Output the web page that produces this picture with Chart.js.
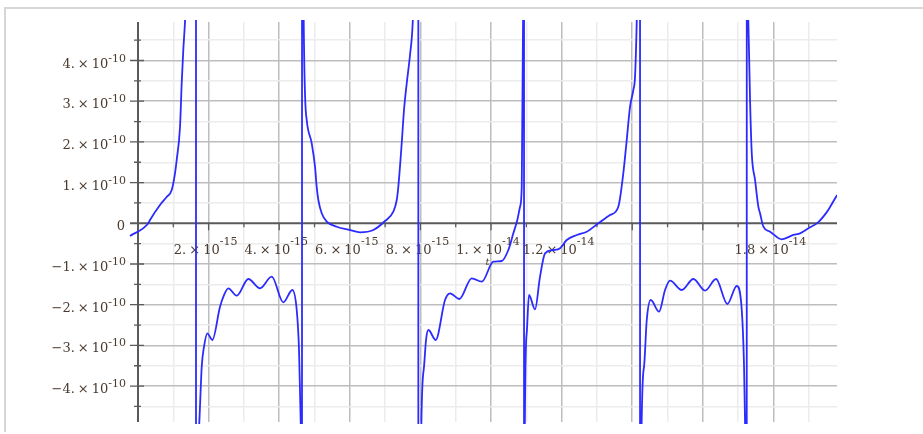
<!DOCTYPE html>
<html>
<head>
<meta charset="utf-8">
<script src="https://cdn.jsdelivr.net/npm/chart.js@4.4.0/dist/chart.umd.min.js"></script>
<style>
  html, body { margin: 0; padding: 0; background: #fff; overflow: hidden; }
  #frame { position: absolute; left: 4px; top: 7px; width: 930px; height: 423px;
           border-top: 2px solid #d6d6d6; border-left: 2px solid #d6d6d6; }
  #plot { position: absolute; left: 0; top: 0; }
</style>
</head>
<body>
<div id="frame"></div>
<canvas id="plot" width="923" height="434"></canvas>
<script>
// t in units of 1e-15, f in units of 1e-10
var tValues = [
  -0.227, 0.292, 0.340, 0.623, 0.813, 0.955, 1.048, 1.096, 1.190, 1.238, 1.283, 1.331, 1.380,
  1.642, 1.644,
  1.700, 1.737, 1.805, 1.870, 1.963, 2.105, 2.323, 2.436, 2.558, 2.796, 3.125, 3.456, 3.788,
  4.116, 4.371, 4.496, 4.561, 4.609, 4.625,
  4.645, 4.647,
  4.690, 4.779, 4.921, 5.014, 5.061, 5.108, 5.204, 5.346, 5.629, 6.006, 6.289, 6.666, 6.997,
  7.232, 7.329, 7.374, 7.470, 7.535, 7.612, 7.705, 7.782, 7.800,
  7.940, 7.942,
  8.020, 8.102, 8.159, 8.224, 8.433, 8.697, 8.839, 9.102, 9.453, 9.737, 10.065, 10.303, 10.490,
  10.632, 10.745, 10.822, 10.870, 10.907, 10.920,
  10.934, 10.936,
  10.950, 11.011, 11.076, 11.246, 11.388, 11.530, 11.765, 11.955, 12.144, 12.428, 12.711, 13.040,
  13.371, 13.606, 13.748, 13.844, 13.938, 14.031, 14.079, 14.127, 14.150,
  14.220, 14.222,
  14.250, 14.334, 14.411, 14.524, 14.759, 14.929, 15.071, 15.402, 15.731, 16.062, 16.374, 16.694,
  16.960, 17.102, 17.167, 17.195, 17.210,
  17.243, 17.245,
  17.270, 17.289, 17.337, 17.385, 17.479, 17.572, 17.620, 17.714, 17.904, 18.235, 18.564, 18.754,
  18.989, 19.272, 19.510, 19.603, 19.802
];
var fValues = [
  -0.312, 0.000, 0.081, 0.450, 0.646, 0.818, 1.229, 1.555, 2.366, 3.447, 4.258, 4.946, 6.0,
  20, -20,
  -6.0, -4.880, -3.523, -3.032, -2.703, -2.867, -2.049, -1.762, -1.597, -1.779, -1.369, -1.597, -1.312,
  -1.941, -1.639, -2.130, -3.113, -4.880, -6.0,
  -20, 20,
  5.3, 2.538, 1.966, 1.391, 0.899, 0.572, 0.246, 0.039, -0.084, -0.165, -0.221, -0.165, 0.057,
  0.285, 0.572, 0.899, 1.966, 2.784, 3.440, 4.135, 4.946, 5.5,
  20, -20,
  -5.3, -3.523, -2.867, -2.622, -2.867, -1.885, -1.720, -1.860, -1.351, -1.435, -0.944, -0.926, -0.656,
  -0.246, 0.081, 0.408, 0.899, 4.946, 6.0,
  20, -20,
  -6.0, -2.695, -1.762, -2.113, -1.312, -0.737, -0.656, -0.614, -0.410, -0.287, -0.206, 0.000,
  0.204, 0.408, 1.236, 2.047, 2.865, 3.275, 3.602, 4.946, 6.0,
  20, -20,
  -6.0, -3.523, -2.376, -1.885, -2.172, -1.639, -1.410, -1.639, -1.369, -1.656, -1.369, -1.983,
  -1.541, -2.130, -3.523, -4.880, -6.0,
  -20, 20,
  6.0, 4.946, 3.029, 1.727, 1.064, 0.408, 0.246, -0.084, -0.206, -0.393, -0.287, -0.246,
  -0.123, 0.030, 0.275, 0.400, 0.695
];

var xGridValues = [1, 2, 3, 4, 5, 6, 7, 8, 9, 10, 11, 12, 13, 14, 15, 16, 17, 18, 19];
var yGridValues = [-4.5, -4, -3.5, -3, -2.5, -2, -1.5, -1, -0.5, 0.5, 1, 1.5, 2, 2.5, 3, 3.5, 4, 4.5];

var xLabelValues = [2, 4, 6, 8, 10, 12, 18];
var xLabelMant = ['2.', '4.', '6.', '8.', '1.', '1.2', '1.8'];
var xLabelExp = ['-15', '-15', '-15', '-15', '-14', '-14', '-14'];

var yLabelValues = [4, 3, 2, 1, -1, -2, -3, -4];
var yLabelMant = ['4.', '3.', '2.', '1.', '\u22121.', '\u22122.', '\u22123.', '\u22124.'];
var yLabelExp = ['-10', '-10', '-10', '-10', '-10', '-10', '-10', '-10'];

var points = tValues.map(function (t, i) { return { x: t, y: fValues[i] }; });

var SERIF = '"DejaVu Serif", serif';
var TEXT = '#4a3b30';

function isMajor(v) { return Math.abs(v - Math.round(v)) < 1e-9; }
function isEven(v) { return Math.round(v) % 2 === 0; }

// draws "m × 10^e", anchored at x by align ('center' or 'right')
function sciLabel(ctx, mant, exp, x, baseY, supY, align) {
  ctx.font = '13px ' + SERIF;
  var gap = 3;
  var wm = ctx.measureText(mant).width;
  var wx = ctx.measureText('\u00d7').width;
  var w10 = ctx.measureText('10').width;
  ctx.font = '11px ' + SERIF;
  var ws = ctx.measureText(exp).width;
  var total = wm + gap + wx + gap + w10 + ws;
  var x0 = align === 'right' ? x - total : x - total / 2 - 3;
  ctx.textAlign = 'left';
  ctx.textBaseline = 'alphabetic';
  ctx.fillStyle = TEXT;
  ctx.font = '13px ' + SERIF;
  ctx.fillText(mant, x0, baseY);
  ctx.fillText('\u00d7', x0 + wm + gap, baseY);
  ctx.fillText('10', x0 + wm + gap + wx + gap, baseY);
  ctx.font = '11px ' + SERIF;
  ctx.fillText(exp, x0 + wm + gap + wx + gap + w10, supY);
}

var axesPlugin = {
  id: 'mapleAxes',
  beforeDatasetsDraw: function (chart) {
    var ctx = chart.ctx, xs = chart.scales.x, ys = chart.scales.y, area = chart.chartArea;
    var x0 = xs.getPixelForValue(0), y0 = ys.getPixelForValue(0);
    ctx.save();
    ctx.strokeStyle = '#5a5a5a';
    ctx.lineWidth = 2;
    ctx.beginPath();
    ctx.moveTo(x0, area.top); ctx.lineTo(x0, area.bottom);
    ctx.moveTo(x0 - 8, y0); ctx.lineTo(area.right, y0);
    ctx.stroke();
    ctx.lineWidth = 1.3;
    ctx.beginPath();
    yGridValues.forEach(function (v) {
      var py = ys.getPixelForValue(v);
      if (isMajor(v)) { ctx.moveTo(x0 - 8, py); ctx.lineTo(x0 + 6, py); }
      else { ctx.moveTo(x0 - 4, py); ctx.lineTo(x0 + 3, py); }
    });
    xGridValues.forEach(function (v) {
      var px = xs.getPixelForValue(v);
      ctx.moveTo(px, y0); ctx.lineTo(px, y0 + (isEven(v) ? 7 : 4));
    });
    ctx.stroke();

    xLabelValues.forEach(function (v, i) {
      sciLabel(ctx, xLabelMant[i], xLabelExp[i], xs.getPixelForValue(v), y0 + 31, y0 + 22, 'center');
    });
    yLabelValues.forEach(function (v, i) {
      var py = ys.getPixelForValue(v);
      sciLabel(ctx, yLabelMant[i], yLabelExp[i], x0 - 12, py + 7, py + 1, 'right');
    });
    ctx.font = '13px ' + SERIF;
    ctx.fillStyle = TEXT;
    ctx.textAlign = 'right';
    ctx.fillText('0', x0 - 13, y0 + 7);
    ctx.font = 'italic 10px ' + SERIF;
    ctx.textAlign = 'center';
    ctx.fillText('t', (area.left + area.right) / 2, y0 + 42);
    ctx.restore();
  }
};

new Chart(document.getElementById('plot'), {
  type: 'scatter',
  data: {
    datasets: [{
      data: points,
      showLine: true,
      borderColor: '#2b2bff',
      borderWidth: 1.8,
      pointRadius: 0,
      cubicInterpolationMode: 'monotone',
      clip: { left: 10, top: 2, right: 0, bottom: 2 }
    }]
  },
  options: {
    responsive: false,
    animation: false,
    events: [],
    layout: { padding: { left: 138, right: 86, top: 22, bottom: 12 } },
    plugins: { legend: { display: false }, tooltip: { enabled: false } },
    scales: {
      x: {
        type: 'linear', min: 0, max: 19.8,
        afterBuildTicks: function (s) { s.ticks = xGridValues.map(function (v) { return { value: v }; }); },
        ticks: { display: false },
        border: { display: false },
        grid: {
          drawTicks: false,
          lineWidth: 1.5,
          color: function (c) { return isEven(c.tick.value) ? '#bdbdbd' : '#ececec'; }
        }
      },
      y: {
        type: 'linear', min: -4.882, max: 4.946,
        afterBuildTicks: function (s) { s.ticks = yGridValues.map(function (v) { return { value: v }; }); },
        ticks: { display: false },
        border: { display: false },
        grid: {
          drawTicks: false,
          lineWidth: 1.5,
          color: function (c) { return isMajor(c.tick.value) ? '#bdbdbd' : '#ececec'; }
        }
      }
    }
  },
  plugins: [axesPlugin]
});
</script>
</body>
</html>
